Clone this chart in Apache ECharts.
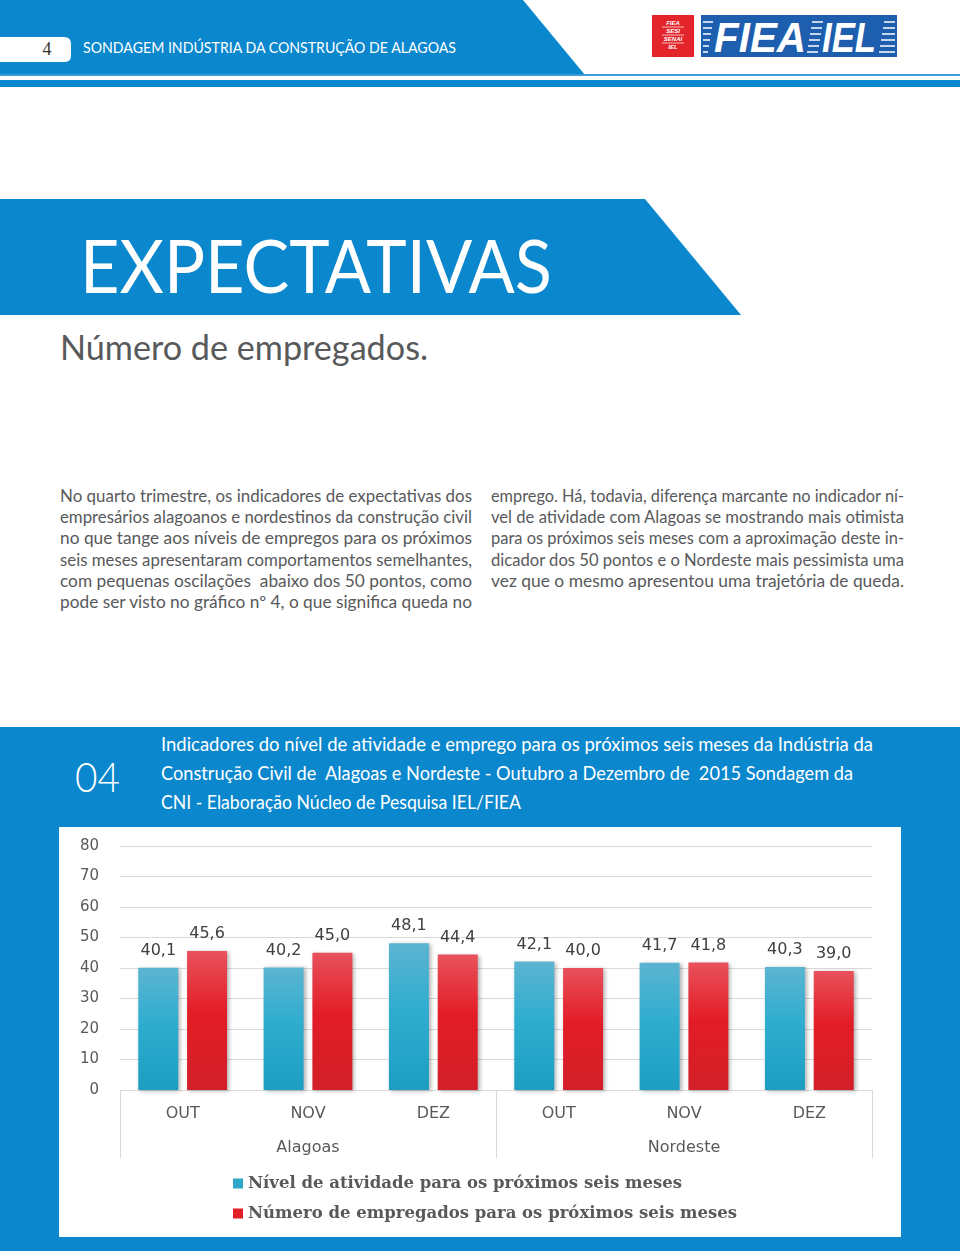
<!DOCTYPE html>
<html>
<head>
<meta charset="utf-8">
<script src="https://cdn.jsdelivr.net/npm/echarts@6/dist/echarts.min.js"></script>
<style>
  html, body { margin: 0; padding: 0; background: #ffffff; }
  #page { position: relative; width: 960px; height: 1251px; overflow: hidden; background: #fff; }
  #bg { position: absolute; left: 0; top: 0; }
  #bg text { white-space: pre; }
  #chart { position: absolute; left: 59px; top: 827px; width: 842px; height: 410px; background: #fff; box-shadow: inset 0 0 0 1px #e4e4e4; }
</style>
</head>
<body>
<div id="page">
<svg id="bg" width="960" height="1251" xmlns="http://www.w3.org/2000/svg" xml:space="preserve">
  <!-- header -->
  <polygon points="0,0 523,0 585,75 0,75" fill="#0a87cd"/>
  <rect x="0" y="74" width="960" height="2" fill="#3d9bd6"/>
  <rect x="0" y="80" width="960" height="7" fill="#0a87cd"/>
  <path d="M0,37 H64 Q71,37 71,44 V56 Q71,62 64,62 H0 Z" fill="#ffffff"/>
  <text x="47" y="55" font-family="Liberation Serif" font-size="18" fill="#333" text-anchor="middle">4</text>
  <text x="83" y="53" font-family="Lato" font-size="15.5" fill="#ffffff" textLength="373" lengthAdjust="spacingAndGlyphs">SONDAGEM INDÚSTRIA DA CONSTRUÇÃO DE ALAGOAS</text>
  <!-- logo -->
  <rect x="652" y="15" width="42" height="42" fill="#e3242b"/>
  <g fill="#ffffff" font-family="Liberation Sans" font-weight="bold" font-style="italic" font-size="6" text-anchor="middle">
    <text x="673" y="25">FIEA</text>
    <text x="673" y="33">SESI</text>
    <text x="673" y="41">SENAI</text>
    <text x="673" y="49">IEL</text>
  </g>
  <g stroke="#ffffff" stroke-width="0.7">
    <line x1="662" y1="27" x2="684" y2="27"/>
    <line x1="662" y1="35" x2="684" y2="35"/>
    <line x1="662" y1="43" x2="684" y2="43"/>
  </g>
  <rect x="701" y="15" width="196" height="42" fill="#1e5eae"/>
  <g stroke="#ffffff" stroke-width="1.5">
    <line x1="703" y1="22" x2="713" y2="22"/><line x1="703" y1="28" x2="712" y2="28"/><line x1="703" y1="34" x2="711" y2="34"/>
    <line x1="703" y1="40" x2="710" y2="40"/><line x1="703" y1="46" x2="709" y2="46"/><line x1="703" y1="52" x2="708" y2="52"/>
    <line x1="812" y1="22" x2="823" y2="22"/><line x1="811" y1="28" x2="822" y2="28"/><line x1="810" y1="34" x2="821" y2="34"/>
    <line x1="809" y1="40" x2="820" y2="40"/><line x1="808" y1="46" x2="819" y2="46"/><line x1="807" y1="52" x2="818" y2="52"/>
    <line x1="884" y1="22" x2="895" y2="22"/><line x1="883" y1="28" x2="895" y2="28"/><line x1="882" y1="34" x2="895" y2="34"/>
    <line x1="881" y1="40" x2="895" y2="40"/><line x1="880" y1="46" x2="895" y2="46"/><line x1="879" y1="52" x2="895" y2="52"/>
  </g>
  <g fill="#ffffff" font-family="Liberation Sans" font-weight="bold" font-style="italic" font-size="42">
    <text x="714" y="52" textLength="92" lengthAdjust="spacingAndGlyphs">FIEA</text>
    <text x="822" y="52" textLength="54" lengthAdjust="spacingAndGlyphs">IEL</text>
  </g>

  <!-- title banner -->
  <polygon points="0,199 645,199 741,315 0,315" fill="#0a87cd"/>
  <text x="80" y="293" font-family="Lato" font-size="74" fill="#ffffff" textLength="472" lengthAdjust="spacingAndGlyphs">EXPECTATIVAS</text>
  <text x="60" y="360" font-family="Lato" font-size="35" fill="#58595b" textLength="368" lengthAdjust="spacingAndGlyphs">Número de empregados.</text>

  <!-- paragraphs -->
  <g font-family="Lato" font-size="16.5" fill="#58595b">
    <text x="60" y="502" textLength="412" lengthAdjust="spacingAndGlyphs">No quarto trimestre, os indicadores de expectativas dos</text>
    <text x="60" y="523" textLength="412" lengthAdjust="spacingAndGlyphs">empresários alagoanos e nordestinos da construção civil</text>
    <text x="60" y="544" textLength="412" lengthAdjust="spacingAndGlyphs">no que tange aos níveis de empregos para os próximos</text>
    <text x="60" y="566" textLength="412" lengthAdjust="spacingAndGlyphs">seis meses apresentaram comportamentos semelhantes,</text>
    <text x="60" y="587" textLength="412" lengthAdjust="spacingAndGlyphs">com pequenas oscilações  abaixo dos 50 pontos, como</text>
    <text x="60" y="608" textLength="412" lengthAdjust="spacingAndGlyphs">pode ser visto no gráfico nº 4, o que significa queda no</text>
    <text x="491" y="502" textLength="413" lengthAdjust="spacingAndGlyphs">emprego. Há, todavia, diferença marcante no indicador ní-</text>
    <text x="491" y="523" textLength="413" lengthAdjust="spacingAndGlyphs">vel de atividade com Alagoas se mostrando mais otimista</text>
    <text x="491" y="544" textLength="413" lengthAdjust="spacingAndGlyphs">para os próximos seis meses com a aproximação deste in-</text>
    <text x="491" y="566" textLength="413" lengthAdjust="spacingAndGlyphs">dicador dos 50 pontos e o Nordeste mais pessimista uma</text>
    <text x="491" y="587" textLength="413" lengthAdjust="spacingAndGlyphs">vez que o mesmo apresentou uma trajetória de queda.</text>
  </g>

  <!-- chart section -->
  <rect x="0" y="727" width="960" height="524" fill="#0a87cd"/>
  <text x="75" y="792" font-family="Lato" font-weight="300" font-size="42" fill="#ffffff" textLength="45" lengthAdjust="spacingAndGlyphs">04</text>
  <g font-family="Lato" font-size="18.5" fill="#ffffff">
    <text x="161" y="751" textLength="712" lengthAdjust="spacingAndGlyphs">Indicadores do nível de atividade e emprego para os próximos seis meses da Indústria da</text>
    <text x="161" y="780" textLength="692" lengthAdjust="spacingAndGlyphs">Construção Civil de  Alagoas e Nordeste - Outubro a Dezembro de  2015 Sondagem da</text>
    <text x="161" y="809" textLength="360" lengthAdjust="spacingAndGlyphs">CNI - Elaboração Núcleo de Pesquisa IEL/FIEA</text>
  </g>
</svg>
<div id="chart"></div>
</div>
<script>
// ---- data ----
var months = ['OUT', 'NOV', 'DEZ', 'OUT', 'NOV', 'DEZ'];
var regions = ['Alagoas', 'Nordeste'];
var seriesNames = ['Nível de atividade para os próximos seis meses', 'Número de empregados para os próximos seis meses'];
var nivelAtividade = [40.1, 40.2, 48.1, 42.1, 41.7, 40.3];
var numeroEmpregados = [45.6, 45.0, 44.4, 40.0, 41.8, 39.0];
var yTicks = { min: 0, max: 80, interval: 10 };

function fmt(p) { return p.value.toFixed(1).replace('.', ','); }

var chart = echarts.init(document.getElementById('chart'), null, { renderer: 'canvas' });
var gridColor = '#d9d9d9';
var labelStyle = { show: true, position: 'top', distance: 9, formatter: fmt,
  fontFamily: 'DejaVu Sans', fontSize: 16, color: '#404040' };

chart.setOption({
  animation: false,
  backgroundColor: '#ffffff',
  grid: { left: 61, right: 29, top: 19, bottom: 147, containLabel: false },
  legend: {
    orient: 'vertical', left: 169, top: 342,
    itemWidth: 10, itemHeight: 10, itemGap: 11, icon: 'rect',
    textStyle: { fontFamily: 'DejaVu Serif', fontWeight: 'bold', fontSize: 16.5, color: '#595959', lineHeight: 19 },
    data: [
      { name: seriesNames[0], itemStyle: { color: '#2ea7c9' } },
      { name: seriesNames[1], itemStyle: { color: '#e21e27' } }
    ]
  },
  xAxis: [
    { type: 'category', data: months, position: 'bottom',
      axisLine: { show: true, lineStyle: { color: gridColor, width: 1 } },
      axisTick: { show: false },
      axisLabel: { margin: 16, fontFamily: 'DejaVu Sans', fontSize: 16, color: '#595959' } },
    { type: 'category', data: regions, position: 'bottom',
      axisLine: { show: false },
      axisTick: { show: true, length: 68, lineStyle: { color: gridColor, width: 1 } },
      axisLabel: { margin: 50, fontFamily: 'DejaVu Sans', fontSize: 16, color: '#595959' } }
  ],
  yAxis: {
    type: 'value', min: yTicks.min, max: yTicks.max, interval: yTicks.interval,
    axisLine: { show: false }, axisTick: { show: false },
    splitLine: { lineStyle: { color: gridColor, width: 1 } },
    axisLabel: { margin: 21, fontFamily: 'DejaVu Sans', fontSize: 15, color: '#595959' }
  },
  series: [
    { name: seriesNames[0], type: 'bar', xAxisIndex: 0, data: nivelAtividade,
      barWidth: 40, barGap: '22%',
      itemStyle: {
        color: new echarts.graphic.LinearGradient(0, 0, 0, 1, [
          { offset: 0, color: '#5cb4d1' }, { offset: 0.45, color: '#2fadd0' }, { offset: 1, color: '#1c9ec0' }]),
        shadowBlur: 4, shadowColor: 'rgba(0,0,0,0.3)', shadowOffsetX: 2, shadowOffsetY: 1
      },
      label: labelStyle },
    { name: seriesNames[1], type: 'bar', xAxisIndex: 0, data: numeroEmpregados,
      barWidth: 40, barGap: '22%',
      itemStyle: {
        color: new echarts.graphic.LinearGradient(0, 0, 0, 1, [
          { offset: 0, color: '#e8525c' }, { offset: 0.45, color: '#e31c26' }, { offset: 1, color: '#d22028' }]),
        shadowBlur: 4, shadowColor: 'rgba(0,0,0,0.3)', shadowOffsetX: 2, shadowOffsetY: 1
      },
      label: labelStyle }
  ]
});
</script>
</body>
</html>
